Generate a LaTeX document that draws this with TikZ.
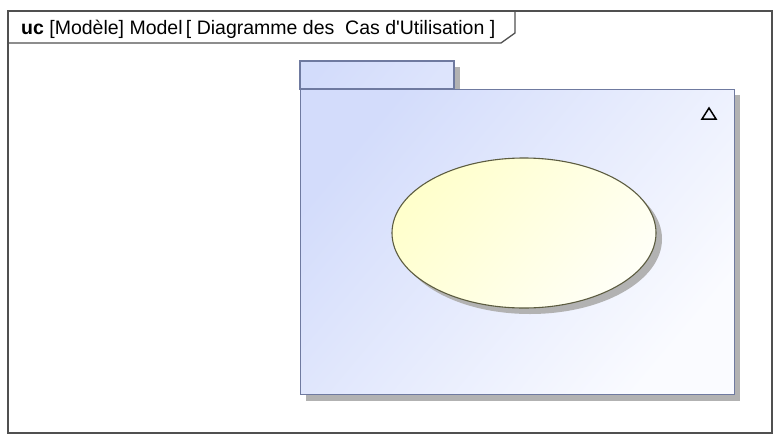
\documentclass[tikz,border=0pt]{standalone}
\usepackage{fontspec}
\setmainfont{Liberation Sans}[Ligatures=ResetAll]
\usetikzlibrary{shapes.geometric}
\definecolor{pkgborder}{HTML}{6F7AA0}
\definecolor{pkgA}{HTML}{D3DCFB}
\definecolor{pkgB}{HTML}{FAFBFF}
\definecolor{tabB}{HTML}{DDE4FC}
\definecolor{ucA}{HTML}{FFFFCC}
\definecolor{ucB}{HTML}{FFFFF6}
\definecolor{ucborder}{HTML}{5C5C40}
\definecolor{shadowc}{HTML}{B2B2B2}
\definecolor{framec}{HTML}{505050}
\begin{document}
\begin{tikzpicture}[x=1pt,y=-1pt,
  framestyle/.style={draw=framec,line width=1.3pt},
  pkgstyle/.style={draw=pkgborder,line width=1.2pt,left color=pkgA,right color=pkgB,shading angle=50},
  tabstyle/.style={draw=pkgborder,line width=1.2pt,left color=pkgA,right color=tabB,shading angle=50},
  shadowstyle/.style={fill=shadowc,draw=none},
  ucstyle/.style={draw=ucborder,line width=1.1pt,left color=ucA,right color=ucB,shading angle=50}]
\useasboundingbox (0,0) rectangle (776,439);
% outer frame
\draw[framestyle] (8,11) rectangle (772,433);
\draw[framestyle] (8,43) -- (501,43) -- (515,33) -- (515,11);
\node[anchor=west,inner sep=0pt,font=\fontsize{19.5}{21}\selectfont] (title) at (21,29)
  {\textbf{uc} [Modèle] Model\,[ Diagramme des\ \ Cas d\textquotesingle Utilisation ]};
% package shadows
\fill[shadowstyle] (306,95) rectangle (740,401);
\fill[shadowstyle] (306,67) rectangle (460,89);
% package tab and body
\path[tabstyle] (300,61) rectangle (454,89);
\node[pkgstyle,minimum width=434pt,minimum height=305pt,inner sep=0pt,anchor=north west] (pkg) at (300,89) {};
% triangle
\draw[line width=1.5pt,black,line join=miter] (702,119) -- (716,119) -- (709,108) -- cycle;
% use case
\fill[shadowstyle] (530,239) ellipse [x radius=132, y radius=75];
\node[ucstyle,ellipse,minimum width=264pt,minimum height=150pt,inner sep=0pt] (uc) at (524,233) {};
\end{tikzpicture}
\end{document}
